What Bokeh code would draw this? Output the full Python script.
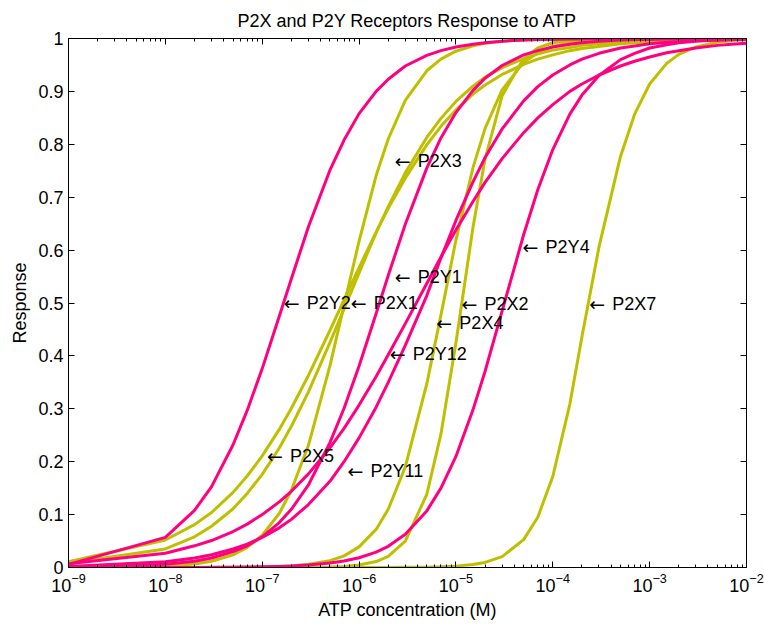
from bokeh.plotting import figure
from bokeh.models import (LogAxis, LinearAxis, FixedTicker, Label, Range1d,
                          CustomJSTickFormatter)
from bokeh.embed import file_html
from bokeh.resources import INLINE

FONT = "Liberation Sans"
MAGENTA = "#FF0080"
YELLOW = "#BFBF00"
TITLE = "P2X and P2Y Receptors Response to ATP"

# ATP concentration (M) sample points
atp = [1e-9, 1e-8, 2e-8, 3e-8, 5e-8, 7e-8, 1e-7, 1.5e-7, 2e-7, 3e-7, 5e-7, 7e-7,
       1e-6, 1.5e-6, 2e-6, 3e-6, 5e-6, 7e-6, 1e-5, 1.5e-5, 2e-5, 3e-5, 5e-5, 7e-5,
       1e-4, 1.5e-4, 2e-4, 3e-4, 5e-4, 7e-4, 1e-3, 1.5e-3, 2e-3, 3e-3, 5e-3, 7e-3, 1e-2]

# P2X receptors (yellow)
p2x1 = [0.008, 0.035, 0.058, 0.078, 0.111, 0.140, 0.176, 0.226, 0.267, 0.332, 0.425, 0.489,
        0.557, 0.633, 0.682, 0.746, 0.813, 0.849, 0.881, 0.910, 0.927, 0.945, 0.962, 0.971,
        0.978, 0.983, 0.987, 0.990, 0.993, 0.995, 0.996, 0.997, 0.997, 0.998, 0.998, 0.999, 0.999]
p2x2 = [0.0, 0.0, 0.0, 0.0, 0.0, 0.0, 0.0, 0.0, 0.0001, 0.0003, 0.001, 0.0021,
        0.0046, 0.0112, 0.021, 0.050, 0.138, 0.252, 0.425, 0.643, 0.772, 0.892, 0.962, 0.982,
        0.992, 0.996, 0.998, 0.999, 1.0, 1.0, 1.0, 1.0, 1.0, 1.0, 1.0, 1.0, 1.0]
p2x3 = [0.0001, 0.0026, 0.0067, 0.0118, 0.024, 0.038, 0.061, 0.102, 0.146, 0.231, 0.381, 0.496,
        0.617, 0.741, 0.810, 0.883, 0.939, 0.961, 0.976, 0.986, 0.991, 0.995, 0.997, 0.998,
        0.999, 1.0, 1.0, 1.0, 1.0, 1.0, 1.0, 1.0, 1.0, 1.0, 1.0, 1.0, 1.0]
p2x4 = [0.0, 0.0, 0.0001, 0.0002, 0.0003, 0.0006, 0.001, 0.002, 0.003, 0.006, 0.013, 0.022,
        0.039, 0.072, 0.110, 0.190, 0.347, 0.477, 0.619, 0.756, 0.830, 0.903, 0.955, 0.973,
        0.985, 0.992, 0.995, 0.997, 0.999, 1.0, 1.0, 1.0, 1.0, 1.0, 1.0, 1.0, 1.0]
p2x5 = [0.011, 0.052, 0.081, 0.104, 0.142, 0.173, 0.211, 0.261, 0.301, 0.363, 0.448, 0.506,
        0.567, 0.634, 0.679, 0.736, 0.799, 0.834, 0.865, 0.895, 0.912, 0.932, 0.951, 0.961,
        0.969, 0.977, 0.981, 0.985, 0.990, 0.992, 0.994, 0.995, 0.996, 0.997, 0.998, 0.998, 0.999]
p2x7 = [0.0, 0.0, 0.0, 0.0, 0.0, 0.0, 0.0, 0.0, 0.0, 0.0, 0.0, 0.0,
        0.0, 0.0001, 0.0002, 0.0003, 0.0007, 0.0013, 0.0026, 0.0056, 0.0096, 0.0206, 0.0526, 0.095,
        0.172, 0.309, 0.436, 0.606, 0.777, 0.857, 0.914, 0.953, 0.970, 0.984, 0.993, 0.996, 0.998]

# P2Y receptors (magenta)
p2y1 = [0.0006, 0.006, 0.012, 0.018, 0.030, 0.041, 0.058, 0.085, 0.110, 0.156, 0.236, 0.301,
        0.381, 0.480, 0.552, 0.649, 0.755, 0.812, 0.860, 0.902, 0.925, 0.949, 0.969, 0.977,
        0.984, 0.989, 0.992, 0.995, 0.997, 0.998, 0.998, 0.999, 0.999, 1.0, 1.0, 1.0, 1.0]
p2y2 = [0.006, 0.057, 0.108, 0.153, 0.232, 0.297, 0.376, 0.475, 0.546, 0.644, 0.751, 0.808,
        0.858, 0.900, 0.923, 0.948, 0.968, 0.977, 0.984, 0.989, 0.992, 0.995, 0.997, 0.998,
        0.998, 0.999, 0.999, 1.0, 1.0, 1.0, 1.0, 1.0, 1.0, 1.0, 1.0, 1.0, 1.0]
p2y4 = [0.0, 0.0001, 0.0002, 0.0003, 0.0006, 0.0009, 0.0013, 0.0021, 0.003, 0.0047, 0.0084, 0.0123,
        0.0185, 0.029, 0.040, 0.063, 0.107, 0.150, 0.210, 0.298, 0.371, 0.485, 0.629, 0.714,
        0.790, 0.857, 0.893, 0.930, 0.960, 0.972, 0.982, 0.988, 0.992, 0.995, 0.997, 0.998, 0.999]
p2y11 = [0.002, 0.011, 0.018, 0.024, 0.035, 0.044, 0.057, 0.075, 0.091, 0.119, 0.163, 0.200,
         0.245, 0.303, 0.350, 0.420, 0.514, 0.585, 0.656, 0.729, 0.775, 0.829, 0.882, 0.909,
         0.931, 0.950, 0.961, 0.972, 0.982, 0.986, 0.990, 0.993, 0.994, 0.996, 0.997, 0.998, 0.998]
p2y12 = [0.007, 0.027, 0.041, 0.051, 0.068, 0.082, 0.100, 0.124, 0.144, 0.177, 0.226, 0.263,
         0.307, 0.361, 0.402, 0.461, 0.537, 0.587, 0.638, 0.692, 0.728, 0.773, 0.822, 0.850,
         0.875, 0.900, 0.914, 0.931, 0.948, 0.957, 0.965, 0.973, 0.977, 0.982, 0.987, 0.989, 0.991]

yellow_curves = [p2x1, p2x2, p2x3, p2x4, p2x5, p2x7]
magenta_curves = [p2y1, p2y2, p2y4, p2y11, p2y12]

# curve annotations (arrow tip position)
label_text = ["P2Y2", "P2X1", "P2X3", "P2Y1", "P2X2", "P2Y4", "P2X7", "P2X4", "P2Y12", "P2Y11", "P2X5"]
label_x = [1.67e-7, 8.2e-7, 2.33e-6, 2.33e-6, 1.14e-5, 4.88e-5, 2.38e-4, 6.28e-6, 2.07e-6, 7.6e-7, 1.12e-7]
label_y = [0.5, 0.5, 0.769, 0.55, 0.498, 0.605, 0.498, 0.462, 0.403, 0.183, 0.21]

x_major = [1e-9, 1e-8, 1e-7, 1e-6, 1e-5, 1e-4, 1e-3, 1e-2]
y_major = [0, 0.1, 0.2, 0.3, 0.4, 0.5, 0.6, 0.7, 0.8, 0.9, 1.0]

p = figure(width=764, height=625, x_axis_type="log",
           x_range=Range1d(1e-9, 1e-2), y_range=Range1d(0, 1),
           output_backend="svg", toolbar_location=None, title=TITLE,
           min_border_left=68, min_border_right=18, min_border_top=38, min_border_bottom=58)
p.background_fill_color = "white"
p.border_fill_color = "white"
p.outline_line_color = "black"
p.xgrid.visible = False
p.ygrid.visible = False

p.title.align = "center"
p.title.text_font = FONT
p.title.text_font_size = "18px"
p.title.text_font_style = "normal"
p.title.text_color = "black"
p.title.standoff = 15

minor_x = [m * t for t in x_major[:-1] for m in range(2, 10)]

xa = p.xaxis[0]
xa.ticker = FixedTicker(ticks=x_major, minor_ticks=minor_x)
xa.axis_label = "ATP concentration (M)"
ya = p.yaxis[0]
ya.ticker = FixedTicker(ticks=y_major)
ya.formatter = CustomJSTickFormatter(code="return (Math.round(tick*10)/10).toString();")
ya.axis_label = "Response"

top = LogAxis(ticker=FixedTicker(ticks=x_major, minor_ticks=minor_x),
              formatter=CustomJSTickFormatter(code="return '';"))
right = LinearAxis(ticker=FixedTicker(ticks=y_major),
                   formatter=CustomJSTickFormatter(code="return '';"))
p.add_layout(top, "above")
p.add_layout(right, "right")

for ax in [xa, ya, top, right]:
    ax.major_tick_in = 6
    ax.major_tick_out = 0
    ax.minor_tick_in = 3
    ax.minor_tick_out = 0
    ax.axis_line_color = "black"
    ax.major_tick_line_color = "black"
    ax.minor_tick_line_color = "black"
    ax.major_label_text_font = FONT
    ax.major_label_text_font_size = "18px"
    ax.major_label_text_color = "black"
    ax.axis_label_text_font = FONT
    ax.axis_label_text_font_size = "18px"
    ax.axis_label_text_font_style = "normal"
    ax.axis_label_text_color = "black"
ya.minor_tick_line_color = None
right.minor_tick_line_color = None
top.major_label_standoff = 0
right.major_label_standoff = 0
top.major_label_text_font_size = "0px"
right.major_label_text_font_size = "0px"

for ys in yellow_curves:
    p.line(atp, ys, line_color=YELLOW, line_width=3, line_join="round")
for ys in magenta_curves:
    p.line(atp, ys, line_color=MAGENTA, line_width=3, line_join="round")

for t, x, y in zip(label_text, label_x, label_y):
    p.add_layout(Label(x=x, y=y, text="\u2190", text_font="DejaVu Sans", text_font_size="19px",
                       text_baseline="middle", text_align="left", text_color="black"))
    p.add_layout(Label(x=x, y=y, x_offset=23, text=t, text_font=FONT, text_font_size="18px",
                       text_baseline="middle", text_align="left", text_color="black"))

open("out.html", "w").write(file_html(p, INLINE))
